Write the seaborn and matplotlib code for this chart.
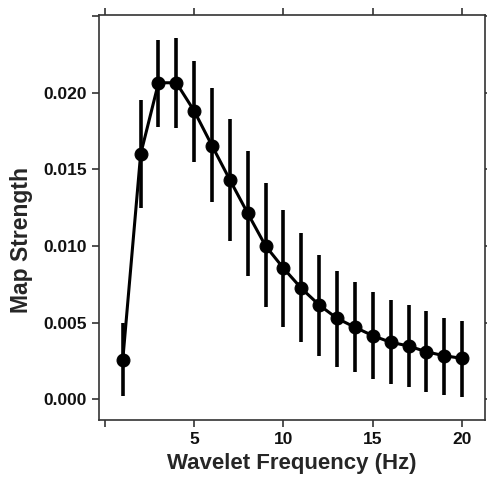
import numpy as np
import pandas as pd
import matplotlib
matplotlib.use("Agg")
import matplotlib.pyplot as plt
import seaborn as sns

freq = list(range(1, 21))
strength = [0.00256, 0.01598, 0.02065, 0.02065, 0.01881, 0.01654, 0.01431, 0.01213,
            0.01000, 0.00855, 0.00724, 0.00615, 0.00528, 0.00470, 0.00415, 0.00372,
            0.00348, 0.00310, 0.00284, 0.00267]
err_low = [0.00022, 0.01246, 0.01778, 0.01768, 0.01546, 0.01285, 0.01033, 0.00804,
           0.00604, 0.00474, 0.00372, 0.00282, 0.00213, 0.00178, 0.00130, 0.00100,
           0.00078, 0.00046, 0.00028, 0.00017]
err_high = [0.00496, 0.01952, 0.02344, 0.02355, 0.02209, 0.02033, 0.01828, 0.01622,
            0.01409, 0.01235, 0.01083, 0.00941, 0.00839, 0.00763, 0.00702, 0.00648,
            0.00615, 0.00578, 0.00532, 0.00513]
x_ticks = [0, 5, 10, 15, 20]
x_ticklabels = ["", "5", "10", "15", "20"]
y_ticks = [0.0, 0.005, 0.010, 0.015, 0.020, 0.025]
y_ticklabels = ["0.000", "0.005", "0.010", "0.015", "0.020", ""]

sns.set_style("ticks")
plt.rcParams['font.family'] = ['Liberation Sans', 'DejaVu Sans']

df = pd.DataFrame({"freq": freq, "strength": strength, "lo": err_low, "hi": err_high})

fig = plt.figure(figsize=(4.87, 4.79), dpi=100)
ax = fig.add_axes([0.2033, 0.1232, 0.9965 - 0.2033, 0.9693 - 0.1232])

ax.vlines(df["freq"], df["lo"], df["hi"], color="black", linewidth=2.6, zorder=2)
sns.lineplot(data=df, x="freq", y="strength", ax=ax, color="black", linewidth=2.2,
             marker="o", markersize=9.3, markeredgecolor="black", zorder=3)

ax.set_xlim(-0.33, 21.3)
ax.set_ylim(-0.00135, 0.02509)
ax.set_xticks(x_ticks)
ax.set_xticklabels(x_ticklabels)
ax.set_yticks(y_ticks)
ax.set_yticklabels(y_ticklabels)

for s in ax.spines.values():
    s.set_visible(True)
    s.set_color("#333333")
    s.set_linewidth(1.2)

ax.tick_params(axis="both", which="both", direction="out", length=5, width=1.2,
               color="#333333", labelsize=12.5, pad=4, labelcolor="#111111",
               top=True, right=True, labeltop=False, labelright=False)
for lab in ax.get_xticklabels() + ax.get_yticklabels():
    lab.set_fontweight("bold")

ax.set_xlabel("Wavelet Frequency (Hz)", fontsize=16, fontweight="bold", labelpad=4)
ax.set_ylabel("Map Strength", fontsize=16.5, fontweight="bold")
ax.yaxis.set_label_coords(-0.17, 0.444)

fig.savefig("out.png", dpi=100)
